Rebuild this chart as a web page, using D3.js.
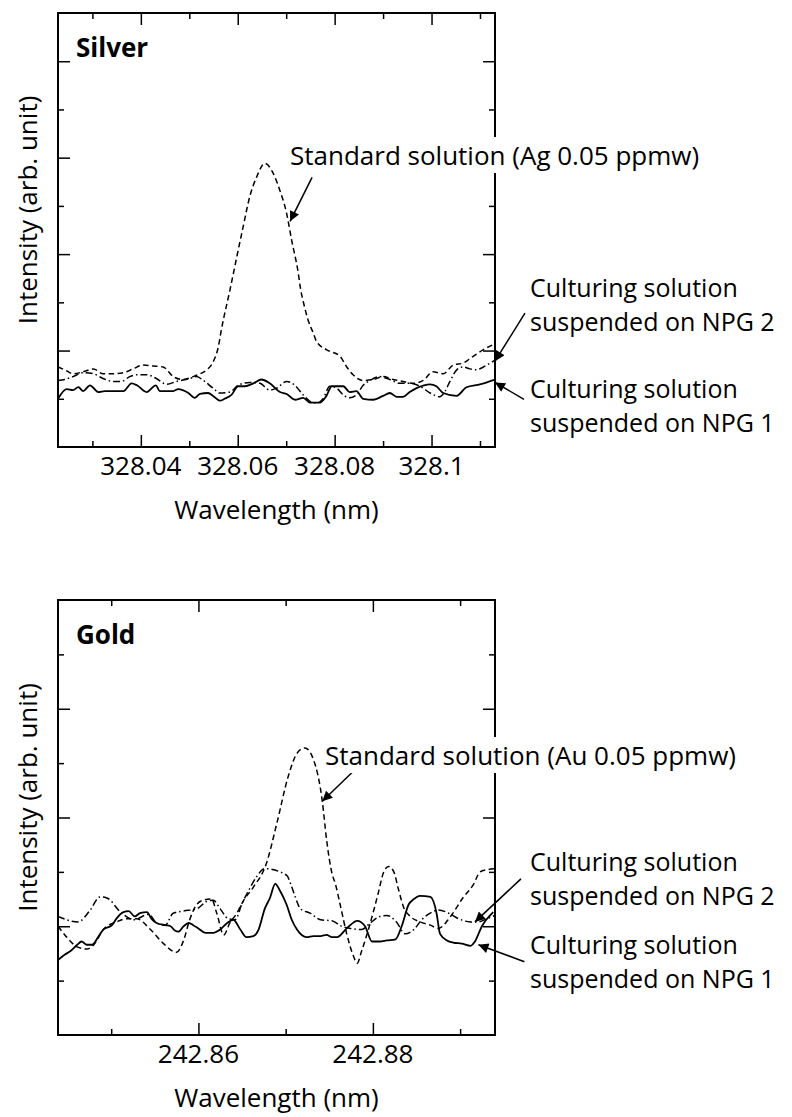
<!DOCTYPE html>
<html>
<head>
<meta charset="utf-8">
<script src="https://cdn.jsdelivr.net/npm/d3@7"></script>
<style>
  body { margin: 0; background: #fff; }
  svg text { font-family: "Open Sans", "Noto Sans", sans-serif; fill: #000; }
</style>
</head>
<body>
<svg id="chart" width="792" height="1117"></svg>
<script>
// ---- Silver (Ag 328.07 nm) ----
var agStdWl = [328.0229, 328.0243, 328.0260, 328.0281, 328.0302, 328.0322, 328.0343, 328.0364, 328.0384, 328.0405,
  328.0425, 328.0446, 328.0467, 328.0487, 328.0508, 328.0518, 328.0536, 328.0549, 328.0560, 328.0566,
  328.0584, 328.0598, 328.0611, 328.0625, 328.0639, 328.0656, 328.0673, 328.0687, 328.0701, 328.0711,
  328.0725, 328.0729, 328.0737, 328.0745, 328.0756, 328.0763, 328.0783, 328.0811, 328.0825, 328.0838,
  328.0859, 328.0880, 328.0900, 328.0921, 328.0941, 328.0962, 328.0983, 328.1003, 328.1024, 328.1045,
  328.1065, 328.1086, 328.1107, 328.1131];
var agStdI = [0.83, 0.80, 0.76, 0.78, 0.81, 0.76, 0.76, 0.77, 0.81, 0.85,
  0.84, 0.83, 0.73, 0.70, 0.73, 0.75, 0.80, 0.88, 1.04, 1.21,
  1.63, 1.97, 2.28, 2.60, 2.80, 2.94, 2.84, 2.66, 2.42, 2.15,
  1.80, 1.66, 1.47, 1.32, 1.18, 1.09, 1.01, 0.94, 0.83, 0.75,
  0.69, 0.70, 0.73, 0.70, 0.68, 0.66, 0.69, 0.78, 0.76, 0.85,
  0.87, 0.94, 1.01, 1.07];

var agNpg1Wl = [328.0229, 328.0247, 328.0260, 328.0271, 328.0281, 328.0295, 328.0312, 328.0326, 328.0364, 328.0381,
  328.0392, 328.0412, 328.0431, 328.0439, 328.0467, 328.0477, 328.0498, 328.0511, 328.0522, 328.0539,
  328.0549, 328.0563, 328.0573, 328.0587, 328.0601, 328.0615, 328.0632, 328.0649, 328.0666, 328.0687,
  328.0701, 328.0718, 328.0735, 328.0749, 328.0769, 328.0783, 328.0794, 328.0818, 328.0831, 328.0845,
  328.0859, 328.0880, 328.0900, 328.0914, 328.0928, 328.0941, 328.0955, 328.0969, 328.0997, 328.1010,
  328.1024, 328.1052, 328.1072, 328.1100, 328.1131];
var agNpg1I = [0.50, 0.60, 0.59, 0.62, 0.58, 0.64, 0.57, 0.58, 0.58, 0.66,
  0.64, 0.57, 0.64, 0.58, 0.58, 0.60, 0.56, 0.51, 0.55, 0.56,
  0.53, 0.48, 0.50, 0.54, 0.63, 0.63, 0.66, 0.70, 0.66, 0.57,
  0.55, 0.49, 0.51, 0.46, 0.46, 0.53, 0.63, 0.63, 0.57, 0.58,
  0.50, 0.49, 0.53, 0.56, 0.52, 0.52, 0.57, 0.61, 0.65, 0.63,
  0.56, 0.53, 0.62, 0.65, 0.70];

var agNpg2Wl = [328.0229, 328.0243, 328.0260, 328.0281, 328.0302, 328.0322, 328.0343, 328.0360, 328.0377, 328.0395,
  328.0412, 328.0432, 328.0453, 328.0474, 328.0501, 328.0515, 328.0529, 328.0549, 328.0563, 328.0584,
  328.0601, 328.0625, 328.0646, 328.0666, 328.0680, 328.0701, 328.0718, 328.0735, 328.0756, 328.0766,
  328.0776, 328.0790, 328.0804, 328.0818, 328.0831, 328.0845, 328.0859, 328.0873, 328.0893, 328.0914,
  328.0935, 328.0955, 328.0976, 328.0997, 328.1017, 328.1027, 328.1038, 328.1052, 328.1065, 328.1079,
  328.1093, 328.1107, 328.1131];
var agNpg2I = [0.69, 0.70, 0.73, 0.77, 0.76, 0.71, 0.68, 0.68, 0.73, 0.75,
  0.75, 0.71, 0.65, 0.68, 0.71, 0.73, 0.69, 0.61, 0.56, 0.57,
  0.64, 0.67, 0.66, 0.59, 0.61, 0.68, 0.64, 0.54, 0.46, 0.46,
  0.50, 0.63, 0.61, 0.54, 0.51, 0.54, 0.64, 0.69, 0.73, 0.70,
  0.66, 0.66, 0.63, 0.56, 0.52, 0.57, 0.68, 0.80, 0.83, 0.81,
  0.80, 0.83, 0.90];

// ---- Gold (Au 242.87 nm) ----
var auStdWl = [242.8439, 242.8449, 242.8461, 242.8472, 242.8480, 242.8491, 242.8506, 242.8518, 242.8529, 242.8545,
  242.8560, 242.8575, 242.8583, 242.8590, 242.8598, 242.8606, 242.8615, 242.8621, 242.8629, 242.8636,
  242.8644, 242.8652, 242.8663, 242.8678, 242.8690, 242.8703, 242.8713, 242.8722, 242.8732, 242.8742,
  242.8747, 242.8753, 242.8757, 242.8763, 242.8770, 242.8778, 242.8782, 242.8787, 242.8797, 242.8806,
  242.8812, 242.8818, 242.8824, 242.8829, 242.8835, 242.8843, 242.8854, 242.8866, 242.8875, 242.8889,
  242.8904, 242.8915, 242.8923, 242.8931, 242.8940];
var auStdI = [1.00, 0.90, 0.81, 0.79, 0.83, 0.97, 1.04, 1.07, 1.07, 0.97,
  0.84, 0.76, 0.87, 1.06, 1.20, 1.24, 1.25, 1.12, 0.92, 1.03,
  1.12, 1.24, 1.36, 1.58, 1.95, 2.38, 2.59, 2.64, 2.53, 2.15,
  1.79, 1.49, 1.39, 1.18, 0.93, 0.72, 0.66, 0.77, 1.03, 1.30,
  1.49, 1.55, 1.50, 1.35, 1.18, 1.09, 1.04, 1.01, 0.98, 1.09,
  1.27, 1.38, 1.50, 1.52, 1.53];

var auNpg1Wl = [242.8439, 242.8447, 242.8453, 242.8461, 242.8466, 242.8472, 242.8478, 242.8485, 242.8491, 242.8501,
  242.8506, 242.8514, 242.8520, 242.8527, 242.8533, 242.8541, 242.8546, 242.8552, 242.8562, 242.8568,
  242.8573, 242.8577, 242.8583, 242.8589, 242.8594, 242.8600, 242.8608, 242.8617, 242.8625, 242.8633,
  242.8640, 242.8648, 242.8655, 242.8663, 242.8669, 242.8676, 242.8682, 242.8688, 242.8694, 242.8701,
  242.8707, 242.8713, 242.8724, 242.8732, 242.8740, 242.8747, 242.8753, 242.8759, 242.8770, 242.8782,
  242.8791, 242.8799, 242.8808, 242.8816, 242.8826, 242.8833, 242.8841, 242.8847, 242.8854, 242.8866,
  242.8873, 242.8877, 242.8885, 242.8892, 242.8902, 242.8912, 242.8917, 242.8925, 242.8938];
var auNpg1I = [0.69, 0.74, 0.77, 0.83, 0.86, 0.83, 0.83, 0.90, 0.97, 1.01,
  1.07, 1.13, 1.14, 1.09, 1.12, 1.13, 1.07, 1.03, 1.01, 1.00,
  0.96, 0.95, 1.00, 1.03, 1.01, 0.98, 0.94, 0.94, 0.97, 1.03,
  1.06, 0.97, 0.90, 0.91, 0.97, 1.16, 1.26, 1.39, 1.32, 1.20,
  1.06, 0.97, 0.90, 0.91, 0.91, 0.92, 0.90, 0.90, 0.98, 1.05,
  1.00, 0.86, 0.86, 0.87, 0.88, 1.00, 1.20, 1.25, 1.28, 1.27,
  1.12, 0.93, 0.87, 0.85, 0.84, 0.82, 0.86, 1.00, 1.13];

var auNpg2Wl = [242.8439, 242.8462, 242.8476, 242.8487, 242.8495, 242.8512, 242.8526, 242.8543, 242.8552, 242.8562,
  242.8571, 242.8583, 242.8598, 242.8610, 242.8617, 242.8625, 242.8634, 242.8642, 242.8650, 242.8659,
  242.8667, 242.8676, 242.8701, 242.8707, 242.8711, 242.8717, 242.8728, 242.8740, 242.8753, 242.8764,
  242.8774, 242.8787, 242.8797, 242.8808, 242.8816, 242.8827, 242.8837, 242.8847, 242.8856, 242.8868,
  242.8875, 242.8887, 242.8898, 242.8912, 242.8921, 242.8931, 242.8940];
var auNpg2I = [1.09, 1.04, 1.15, 1.27, 1.26, 1.12, 1.06, 1.11, 1.03, 1.01,
  1.12, 1.14, 1.16, 1.23, 1.24, 1.16, 1.07, 1.06, 1.21, 1.35,
  1.46, 1.53, 1.47, 1.36, 1.27, 1.16, 1.12, 1.06, 1.05, 1.00,
  0.98, 0.97, 1.03, 1.09, 1.10, 1.04, 0.93, 0.97, 1.06, 1.13,
  1.15, 1.12, 1.07, 1.04, 1.04, 1.07, 1.10];

// axis ticks
var agXMajor = [328.04, 328.06, 328.08, 328.10];
var agXLabels = ["328.04", "328.06", "328.08", "328.1"];
var agXMinor = [328.03, 328.05, 328.07, 328.09, 328.11];
var agYMajor = [1, 2, 3, 4];
var agYMinor = [0.5, 1.5, 2.5, 3.5];

var auXMajor = [242.86, 242.88];
var auXLabels = ["242.86", "242.88"];
var auXMinor = [242.85, 242.87, 242.89];
var auYMajor = [1, 2, 3];
var auYMinor = [0.5, 1.5, 2.5, 3.5];

var fontSize = "26px";
var noteSize = "25px";   // two-line notes, a bit smaller so the lines clear each other
var noteLead = 34;
var svg = d3.select("#chart");

svg.append("defs").append("marker")
    .attr("id", "head")
    .attr("viewBox", "0 0 10 10")
    .attr("refX", 10).attr("refY", 5)
    .attr("markerUnits", "userSpaceOnUse")
    .attr("markerWidth", 15).attr("markerHeight", 10)
    .attr("orient", "auto")
    .append("path")
    .attr("d", "M0,0 L10,5 L0,10 z")
    .attr("fill", "#000");

var dashStyles = { solid: null, dash: "5.5,3.5", dashdot: "7,3,1.5,3" };

function drawPanel(p) {
    var g = svg.append("g").attr("transform", "translate(" + p.left + "," + p.top + ")");
    var w = p.width, h = p.height;

    var x = d3.scaleLinear().domain(p.xDomain).range([0, w]);
    var y = d3.scaleLinear().domain(p.yDomain).range([h, 0]);

    // ticks, all pointing inward
    function ticks(axisFn, values, size, tr) {
        var a = g.append("g")
            .attr("transform", tr)
            .call(axisFn.tickValues(values).tickSize(-size).tickFormat(""));
        a.select(".domain").remove();
        a.selectAll("line").attr("stroke", "#000").attr("stroke-width", 1.5);
    }
    ticks(d3.axisBottom(x), p.xMajor, 12, "translate(0," + h + ")");
    ticks(d3.axisBottom(x), p.xMinor, 6, "translate(0," + h + ")");
    ticks(d3.axisTop(x), p.xMajor, 12, "translate(0,0)");
    ticks(d3.axisTop(x), p.xMinor, 6, "translate(0,0)");
    ticks(d3.axisLeft(y), p.yMajor, 12, "translate(0,0)");
    ticks(d3.axisLeft(y), p.yMinor, 6, "translate(0,0)");
    ticks(d3.axisRight(y), p.yMajor, 12, "translate(" + w + ",0)");
    ticks(d3.axisRight(y), p.yMinor, 6, "translate(" + w + ",0)");

    // tick labels
    g.selectAll(".xlab")
        .data(p.xMajor)
        .enter().append("text")
        .attr("x", function(d) { return x(d); })
        .attr("y", h + 28)
        .attr("text-anchor", "middle")
        .style("font-size", fontSize)
        .text(function(d, i) { return p.xLabels[i]; });

    g.append("text")
        .attr("x", w / 2)
        .attr("y", h + 72)
        .attr("text-anchor", "middle")
        .style("font-size", fontSize)
        .text("Wavelength (nm)");

    g.append("text")
        .attr("transform", "translate(" + (-21) + "," + (h / 2 - 20) + ") rotate(-90)")
        .attr("text-anchor", "middle")
        .style("font-size", fontSize)
        .text("Intensity (arb. unit)");

    // spectra
    var clip = "clip-" + p.id;
    g.append("clipPath").attr("id", clip)
        .append("rect").attr("width", w).attr("height", h);

    var line = d3.line()
        .x(function(d) { return x(d[0]); })
        .y(function(d) { return y(d[1]); })
        .curve(d3.curveMonotoneX);

    p.series.forEach(function(s) {
        g.append("path")
            .datum(d3.zip(s.wl, s.val))
            .attr("clip-path", "url(#" + clip + ")")
            .attr("fill", "none")
            .attr("stroke", "#000")
            .attr("stroke-width", s.style == "solid" ? 1.8 : 1.5)
            .attr("stroke-dasharray", dashStyles[s.style])
            .attr("d", line);
    });

    // frame
    g.append("rect")
        .attr("width", w).attr("height", h)
        .attr("fill", "none")
        .attr("stroke", "#000")
        .attr("stroke-width", 2);

    // panel title
    g.append("text")
        .attr("x", 18).attr("y", 44)
        .style("font-size", fontSize)
        .style("font-weight", "bold")
        .text(p.title);

    // annotations with arrows
    p.notes.forEach(function(n) {
        var tx = x(n.tip[0]), ty = y(n.tip[1]);
        g.append("line")
            .attr("x1", tx + n.tail[0]).attr("y1", ty + n.tail[1])
            .attr("x2", tx).attr("y2", ty)
            .attr("stroke", "#000")
            .attr("stroke-width", 1.5)
            .attr("marker-end", "url(#head)");
        var multi = n.lines.length > 1;
        n.lines.forEach(function(l, i) {
            var t = g.append("text")
                .attr("x", n.pos[0])
                .attr("y", multi ? n.pos[1] - 2.5 + i * noteLead : n.pos[1])
                .style("font-size", multi ? noteSize : fontSize)
                .text(l);
            if (n.boxed) {
                // the label sits on white, hiding the frame behind it
                var b = t.node().getBBox();
                g.insert("rect", function() { return t.node(); })
                    .attr("x", b.x - 3).attr("y", b.y)
                    .attr("width", b.width + 6).attr("height", b.height)
                    .attr("fill", "#fff");
            }
        });
    });
}

drawPanel({
    id: "ag", title: "Silver",
    left: 58, top: 13, width: 437, height: 434,
    xDomain: [328.0229, 328.1131], yDomain: [0, 4.5],
    xMajor: agXMajor, xLabels: agXLabels, xMinor: agXMinor,
    yMajor: agYMajor, yMinor: agYMinor,
    series: [
        { wl: agStdWl, val: agStdI, style: "dash" },
        { wl: agNpg2Wl, val: agNpg2I, style: "dashdot" },
        { wl: agNpg1Wl, val: agNpg1I, style: "solid" }
    ],
    notes: [
        { tip: [328.0708, 2.34], tail: [22, -44], pos: [232, 152], lines: ["Standard solution (Ag 0.05 ppmw)"], boxed: true },
        { tip: [328.1131, 0.89], tail: [30, -48], pos: [472, 286], lines: ["Culturing solution", "suspended on NPG 2"] },
        { tip: [328.1131, 0.67], tail: [29, 17], pos: [472, 387], lines: ["Culturing solution", "suspended on NPG 1"] }
    ]
});

drawPanel({
    id: "au", title: "Gold",
    left: 58, top: 600, width: 437, height: 435,
    xDomain: [242.8439, 242.8940], yDomain: [0, 4],
    xMajor: auXMajor, xLabels: auXLabels, xMinor: auXMinor,
    yMajor: auYMajor, yMinor: auYMinor,
    series: [
        { wl: auStdWl, val: auStdI, style: "dash" },
        { wl: auNpg2Wl, val: auNpg2I, style: "dashdot" },
        { wl: auNpg1Wl, val: auNpg1I, style: "solid" }
    ],
    notes: [
        { tip: [242.8742, 2.15], tail: [30, -29], pos: [267, 165], lines: ["Standard solution (Au 0.05 ppmw)"], boxed: true },
        { tip: [242.8917, 1.04], tail: [46, -43], pos: [472, 273], lines: ["Culturing solution", "suspended on NPG 2"] },
        { tip: [242.8921, 0.83], tail: [46, 17], pos: [472, 356], lines: ["Culturing solution", "suspended on NPG 1"] }
    ]
});
</script>
</body>
</html>
